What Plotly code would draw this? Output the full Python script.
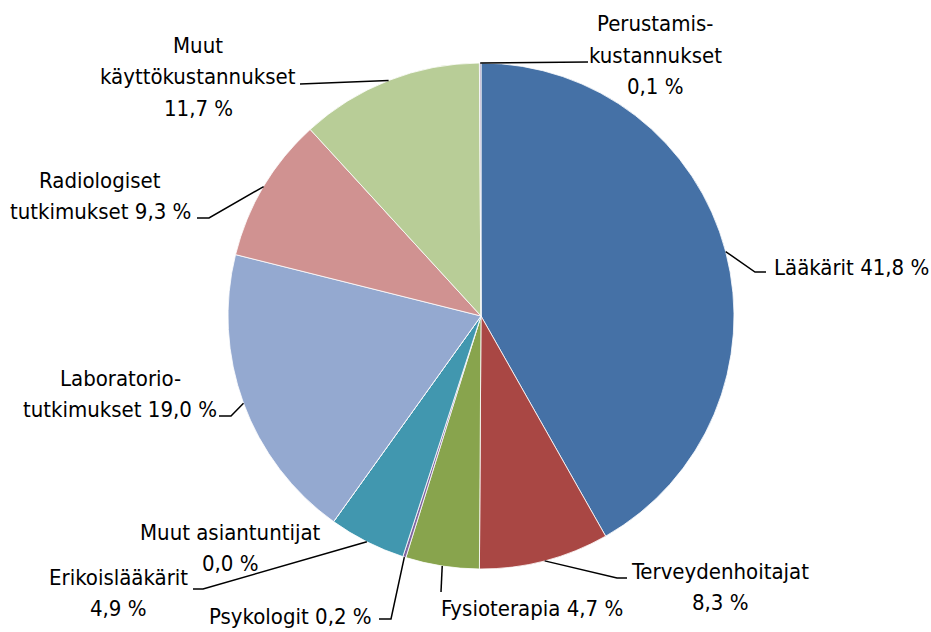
import math
import plotly.graph_objects as go

# ---- data ----
categories = ["Lääkärit", "Terveydenhoitajat", "Fysioterapia", "Psykologit",
              "Erikoislääkärit", "Muut asiantuntijat", "Laboratoriotutkimukset",
              "Radiologiset tutkimukset", "Muut käyttökustannukset", "Perustamiskustannukset"]
shares = [41.8, 8.3, 4.7, 0.2, 4.9, 0.0, 19.0, 9.3, 11.7, 0.1]
label_texts = ["Lääkärit 41,8 %", "Terveydenhoitajat<br>8,3 %", "Fysioterapia 4,7 %",
               "Psykologit 0,2 %", "Erikoislääkärit<br>4,9 %", "Muut asiantuntijat<br>0,0 %",
               "Laboratorio-<br>tutkimukset 19,0 %", "Radiologiset<br>tutkimukset 9,3 %",
               "Muut<br>käyttökustannukset<br>11,7 %", "Perustamis-<br>kustannukset<br>0,1 %"]
colors = ["#4571A6", "#A94744", "#88A44D", "#7F65A0", "#4197AF", "#DB843D",
          "#94A9D0", "#D09291", "#B8CD97", "#A99BBD"]

# ---- layout geometry (pixels) ----
W, H = 931, 632
CX, CY, R = 481, 316, 253
LINE_H = 31
FONT = "Liberation Sans Narrow, Arial Narrow, DejaVu Sans Condensed, sans-serif"

# label block position (x, y-center, xanchor) and leader-line elbow points
label_pos = [
    (772, 267, "left"), (720, 587, "center"), (439, 608, "left"), (374, 616, "right"),
    (118, 593, "center"), (230, 548, "center"), (120, 394, "center"), (100, 196, "center"),
    (198, 77, "center"), (655, 55, "center"),
]
leaders = [
    [(766, 272), (755, 272)],
    [(627, 578), (617, 578)],
    [(441, 592)],
    [(379, 619), (391, 619)],
    [(193, 589), (203, 589)],
    None,
    [(219, 416), (231, 416)],
    [(197, 218), (209, 218)],
    [(300, 84)],
    [(588, 62)],
]

def px(x):
    return x / W

def py(y):
    return 1 - y / H

total = sum(shares)
fig = go.Figure(go.Pie(
    labels=categories, values=shares, sort=False, direction="clockwise", rotation=0,
    marker=dict(colors=colors, line=dict(color="white", width=0.8)),
    textinfo="none", showlegend=False, hoverinfo="label+percent",
    domain=dict(x=[px(CX - R), px(CX + R)], y=[py(CY + R), py(CY - R)]),
))

annotations = []
shapes = []
cum = 0.0
for i, v in enumerate(shares):
    mid = (cum + v / 2) / total * 2 * math.pi
    cum += v
    ex = CX + R * math.sin(mid)
    ey = CY - R * math.cos(mid)
    x, y, xa = label_pos[i]
    lines = label_texts[i].split("<br>")
    n = len(lines)
    for k, line in enumerate(lines):
        ly = y + (k - (n - 1) / 2) * LINE_H
        annotations.append(dict(
            x=px(x), y=py(ly), xref="paper", yref="paper", text=line,
            showarrow=False, xanchor=xa, yanchor="middle", align="center",
            font=dict(family=FONT, size=22, color="black"),
        ))
    if leaders[i]:
        pts = leaders[i] + [(ex, ey)]
        path = "M " + " L ".join(f"{px(a):.5f},{py(b):.5f}" for a, b in pts)
        shapes.append(dict(type="path", path=path, xref="paper", yref="paper",
                           line=dict(color="black", width=1.5)))

fig.update_layout(
    width=W, height=H, autosize=False,
    margin=dict(l=0, r=0, t=0, b=0),
    paper_bgcolor="white", plot_bgcolor="white",
    annotations=annotations, shapes=shapes,
)

fig.write_html("out.html", config={"displayModeBar": False},
               post_script="document.body.style.margin='0px';document.body.style.overflow='hidden';")
